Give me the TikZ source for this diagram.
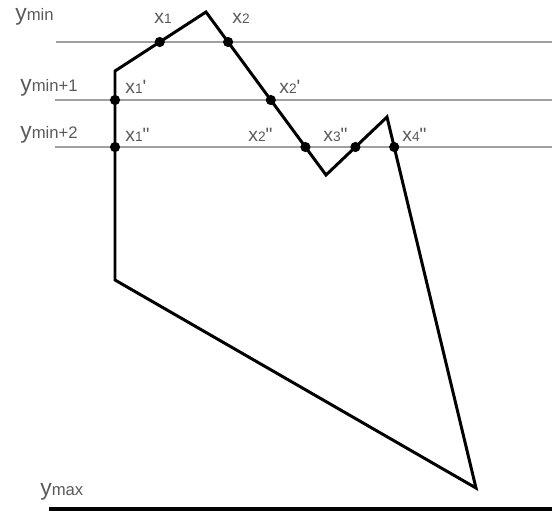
\documentclass[tikz,border=0pt]{standalone}
\usepackage{fontspec}
\setmainfont{Liberation Sans}
\usepackage{xcolor}
\usepackage{tikz}
\usetikzlibrary{positioning,calc}
\definecolor{lbl}{RGB}{90,90,90}
\definecolor{scn}{RGB}{160,160,160}
\newcommand{\ylab}[1]{{\fontsize{13}{15}\selectfont y}{\fontsize{9.5}{11}\selectfont #1}}
\newcommand{\xlab}[2]{x{\fontsize{7.8}{9}\selectfont #1}#2}
\tikzset{
  lab/.style={anchor=base west,inner sep=0pt,text=lbl,font=\fontsize{11}{13}\selectfont},
  hit/.style={circle,fill=black,inner sep=0pt,minimum size=5.8pt},
  scanline/.style={draw=scn,line width=1pt},
  edge/.style={draw=black,line width=1.7pt,line join=miter}
}

\begin{document}
\begin{tikzpicture}[x=0.02cm,y=-0.02cm]
\useasboundingbox (0,0) rectangle (552,511);
% ---- scan lines (y in pixels, downwards) ----
\coordinate (s0w) at (56,42);  \coordinate (s0e) at (552,42);
\coordinate (s1w) at (55,100); \coordinate (s1e) at (552,100);
\coordinate (s2w) at (55,147); \coordinate (s2e) at (552,147);
\coordinate (smw) at (49,509); \coordinate (sme) at (552,509);
\draw[scanline] (s0w) -- (s0e);
\draw[scanline] (s1w) -- (s1e);
\draw[scanline] (s2w) -- (s2e);
\draw[black,line width=2.2pt] (smw) -- (sme);
% ---- polygon ----
\coordinate (top) at (206,12);
\coordinate (vl) at (326,175);
\coordinate (pk) at (387,117);
\coordinate (br) at (476,488);
\coordinate (lb) at (115,280);
\coordinate (lc) at (115,71);
\draw[edge] (top) -- (vl) -- (pk) -- (br) -- (lb) -- (lc) -- cycle;
% ---- intersection points ----
\node[hit] (x1)   at (intersection of lc--top and s0w--s0e) {};
\node[hit] (x2)   at (intersection of top--vl and s0w--s0e) {};
\node[hit] (x1p)  at (intersection of lb--lc and s1w--s1e) {};
\node[hit] (x2p)  at (intersection of top--vl and s1w--s1e) {};
\node[hit] (x1pp) at (intersection of lb--lc and s2w--s2e) {};
\node[hit] (x2pp) at (intersection of top--vl and s2w--s2e) {};
\node[hit] (x3pp) at (intersection of vl--pk and s2w--s2e) {};
\node[hit] (x4pp) at (intersection of pk--br and s2w--s2e) {};
% ---- labels ----
\node[lab] (lymin)  at (15,20)  {\ylab{min}};
\node[lab] (lymin1) at (20,91)  {\ylab{min+1}};
\node[lab] (lymin2) at (20,138) {\ylab{min+2}};
\node[lab] (lymax)  at (40,495) {\ylab{max}};
\node[lab] (lx1)   at (154,23)  {\xlab{1}{}};
\node[lab] (lx2)   at (232,23)  {\xlab{2}{}};
\node[lab] (lx1p)  at (125,93)  {\xlab{1}{\textquotesingle}};
\node[lab] (lx2p)  at (279,93)  {\xlab{2}{\textquotesingle}};
\node[lab] (lx1pp) at (125,141) {\xlab{1}{\textquotedbl}};
\node[lab] (lx2pp) at (248,141) {\xlab{2}{\textquotedbl}};
\node[lab] (lx3pp) at (323,141) {\xlab{3}{\textquotedbl}};
\node[lab] (lx4pp) at (402,141) {\xlab{4}{\textquotedbl}};
\end{tikzpicture}
\end{document}
